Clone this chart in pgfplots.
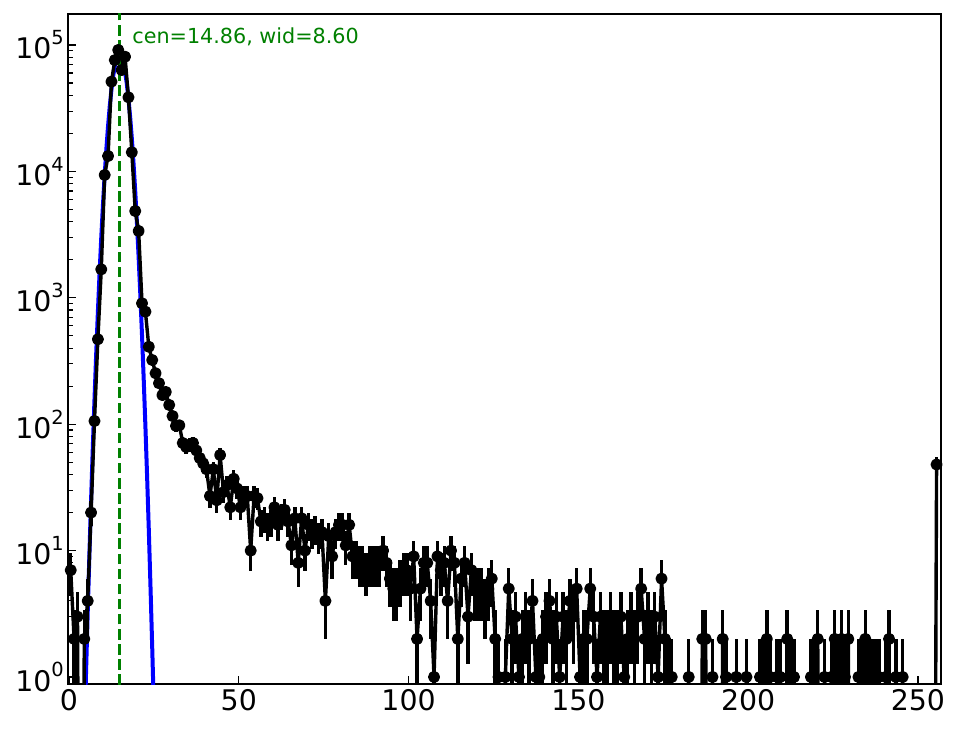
\documentclass[border=0pt]{standalone}
\usepackage{pgfplots}
\pgfplotsset{compat=1.18}
\usepackage{pgfplotstable}
\usepackage{fontspec}
\setmainfont{DejaVu Sans}
\definecolor{mplgreen}{rgb}{0,0.5,0}

\pgfplotstableread[row sep=\\]{
x y \\
0.5 7 \\ 1.5 2 \\ 2.5 3 \\ 3.5 0 \\ 4.5 2 \\ 5.5 4 \\ 6.5 20 \\ 7.5 106 \\ 8.5 470 \\ 9.5 1680 \\
10.5 9370 \\ 11.5 13240 \\ 12.5 51300 \\ 13.5 76000 \\ 14.5 91300 \\ 15.5 63400 \\ 16.5 80800 \\ 17.5 38600 \\ 18.5 14170 \\ 19.5 4860 \\
20.5 3380 \\ 21.5 905 \\ 22.5 777 \\ 23.5 410 \\ 24.5 322 \\ 25.5 253 \\ 26.5 211 \\ 27.5 170 \\ 28.5 180 \\ 29.5 142 \\
30.5 116 \\ 31.5 97 \\ 32.5 98 \\ 33.5 71 \\ 34.5 66 \\ 35.5 69 \\ 36.5 71 \\ 37.5 62 \\ 38.5 54 \\ 39.5 49 \\
40.5 44 \\ 41.5 27 \\ 42.5 44 \\ 43.5 25 \\ 44.5 57 \\ 45.5 29 \\ 46.5 33 \\ 47.5 22 \\ 48.5 37 \\ 49.5 31 \\
50.5 22 \\ 51.5 27 \\ 52.5 27 \\ 53.5 10 \\ 54.5 27 \\ 55.5 26 \\ 56.5 17 \\ 57.5 18 \\ 58.5 16 \\ 59.5 17 \\
60.5 22 \\ 61.5 16 \\ 62.5 19 \\ 63.5 21 \\ 64.5 17 \\ 65.5 11 \\ 66.5 18 \\ 67.5 8 \\ 68.5 18 \\ 69.5 10 \\
70.5 16 \\ 71.5 14 \\ 72.5 15 \\ 73.5 13 \\ 74.5 14 \\ 75.5 4 \\ 76.5 13 \\ 77.5 9 \\ 78.5 14 \\ 79.5 16 \\
80.5 16 \\ 81.5 11 \\ 82.5 16 \\ 83.5 9 \\ 84.5 9 \\ 85.5 8 \\ 86.5 8 \\ 87.5 7 \\ 88.5 8 \\ 89.5 8 \\
90.5 8 \\ 91.5 8 \\ 92.5 10 \\ 93.5 8 \\ 94.5 6 \\ 95.5 5 \\ 96.5 5 \\ 97.5 6 \\ 98.5 7 \\ 99.5 7 \\
100.5 5 \\ 101.5 9 \\ 102.5 2 \\ 103.5 5 \\ 104.5 8 \\ 105.5 8 \\ 106.5 4 \\ 107.5 1 \\ 108.5 9 \\ 109.5 7 \\
110.5 8 \\ 111.5 4 \\ 112.5 10 \\ 113.5 8 \\ 114.5 2 \\ 115.5 6 \\ 116.5 8 \\ 117.5 3 \\ 118.5 7 \\ 119.5 5 \\
120.5 5 \\ 121.5 5 \\ 122.5 4 \\ 123.5 5 \\ 124.5 6 \\ 125.5 2 \\ 126.5 1 \\ 127.5 0 \\ 128.5 1 \\ 129.5 5 \\
130.5 2 \\ 131.5 3 \\ 132.5 1 \\ 133.5 2 \\ 134.5 3 \\ 135.5 2 \\ 136.5 4 \\ 137.5 1 \\ 138.5 1 \\ 139.5 2 \\
140.5 3 \\ 141.5 4 \\ 142.5 2 \\ 143.5 3 \\ 144.5 1 \\ 145.5 3 \\ 146.5 2 \\ 147.5 4 \\ 148.5 3 \\ 149.5 5 \\
150.5 1 \\ 151.5 2 \\ 152.5 2 \\ 153.5 5 \\ 154.5 3 \\ 155.5 1 \\ 156.5 3 \\ 157.5 2 \\ 158.5 2 \\ 159.5 3 \\
160.5 2 \\ 161.5 2 \\ 162.5 3 \\ 163.5 1 \\ 164.5 2 \\ 165.5 3 \\ 166.5 2 \\ 167.5 3 \\ 168.5 5 \\ 169.5 2 \\
170.5 3 \\ 171.5 2 \\ 172.5 3 \\ 173.5 1 \\ 174.5 6 \\ 175.5 2 \\ 176.5 1 \\ 177.5 1 \\ 178.5 0 \\ 179.5 0 \\
180.5 0 \\ 181.5 0 \\ 182.5 1 \\ 183.5 0 \\ 184.5 0 \\ 185.5 0 \\ 186.5 2 \\ 187.5 2 \\ 188.5 0 \\ 189.5 1 \\
190.5 0 \\ 191.5 0 \\ 192.5 2 \\ 193.5 1 \\ 194.5 0 \\ 195.5 0 \\ 196.5 1 \\ 197.5 0 \\ 198.5 0 \\ 199.5 1 \\
200.5 0 \\ 201.5 0 \\ 202.5 0 \\ 203.5 1 \\ 204.5 1 \\ 205.5 2 \\ 206.5 1 \\ 207.5 0 \\ 208.5 1 \\ 209.5 1 \\
210.5 0 \\ 211.5 2 \\ 212.5 1 \\ 213.5 1 \\ 214.5 0 \\ 215.5 0 \\ 216.5 0 \\ 217.5 0 \\ 218.5 1 \\ 219.5 1 \\
220.5 2 \\ 221.5 0 \\ 222.5 1 \\ 223.5 0 \\ 224.5 1 \\ 225.5 2 \\ 226.5 1 \\ 227.5 2 \\ 228.5 1 \\ 229.5 2 \\
230.5 0 \\ 231.5 0 \\ 232.5 1 \\ 233.5 1 \\ 234.5 2 \\ 235.5 1 \\ 236.5 1 \\ 237.5 1 \\ 238.5 1 \\ 239.5 0 \\
240.5 1 \\ 241.5 2 \\ 242.5 0 \\ 243.5 1 \\ 244.5 0 \\ 245.5 1 \\ 246.5 0 \\ 247.5 0 \\ 248.5 0 \\ 249.5 0 \\
250.5 0 \\ 251.5 0 \\ 252.5 0 \\ 253.5 0 \\ 254.5 0 \\ 255.5 48 \\
}\histdata

\begin{document}
\begin{tikzpicture}
\path[use as bounding box] (-68bp,-45bp) rectangle (896bp,684bp);
\begin{axis}[
  at={(0,0)}, anchor=south west,
  scale only axis, width=873bp, height=670bp,
  xmin=-0.3, xmax=256.8,
  ymode=log, ymin=0.88, ymax=1.76e5,
  axis line style={line width=1.3bp},
  every tick/.style={line width=1.2bp, black},
  major tick length=8bp, minor tick length=5bp,
  tick align=inside,
  xtick pos=bottom, ytick pos=left,
  xtick={0,50,100,150,200,250},
  xticklabels={0,50,100,150,200,250},
  ytick={1,10,100,1000,10000,100000},
  yticklabels={10\raisebox{0.5em}{\fontsize{19.5}{20}\selectfont 0},
               10\raisebox{0.5em}{\fontsize{19.5}{20}\selectfont 1},
               10\raisebox{0.5em}{\fontsize{19.5}{20}\selectfont 2},
               10\raisebox{0.5em}{\fontsize{19.5}{20}\selectfont 3},
               10\raisebox{0.5em}{\fontsize{19.5}{20}\selectfont 4},
               10\raisebox{0.5em}{\fontsize{19.5}{20}\selectfont 5}},
  xticklabel style={font=\fontsize{28.5}{30}\selectfont, inner sep=0pt, anchor=north, yshift=-5bp},
  yticklabel style={font=\fontsize{28.5}{30}\selectfont, inner sep=0pt, anchor=east, xshift=-4bp},
  clip=true,
]
\addplot[blue, line width=4bp] coordinates {
(4.5,0.32) (5,1.05) (5.5,3.2) (6,9.24) (6.5,25.2) (7,64.5) (7.5,156) (8,357) (8.5,770)
(9,1567) (9.5,3010) (10,5457) (10.5,9325) (11,15035) (11.5,22870) (12,32835) (12.5,44480)
(13,56850) (13.5,68550) (14,78000) (14.5,83730) (14.86,85000) (15,84810) (15.5,81050)
(16,73080) (16.5,62180) (17,49900) (17.5,37800) (18,27000) (18.5,18210) (19,11585)
(19.5,6955) (20,3937) (20.5,2103) (21,1061) (21.5,504) (22,226) (22.5,96) (23,38.4)
(23.5,14.5) (24,5.13) (24.5,1.72) (25,0.55) (25.5,0.16)
};
\addplot[black, line width=3.4bp, line join=round, mark=*, mark size=4.3bp,
  error bars/.cd, y dir=both, y explicit, error mark=none,
  error bar style={line width=3.4bp}]
  table[x=x, y expr={max(\thisrow{y},1e-5)},
        y error plus expr={sqrt(\thisrow{y})},
        y error minus expr={min(sqrt(\thisrow{y}),0.99*\thisrow{y})}] {\histdata};
\addplot[mplgreen, line width=3bp, dash pattern=on 10.5bp off 4.6bp] coordinates {(14.86,0.5) (14.86,3e5)};
\node[anchor=west, text=mplgreen, font=\fontsize{20.8}{22}\selectfont, inner sep=0pt] at (axis cs:18.6,1.16e5) {cen=14.86, wid=8.60};
\end{axis}
\end{tikzpicture}
\end{document}
